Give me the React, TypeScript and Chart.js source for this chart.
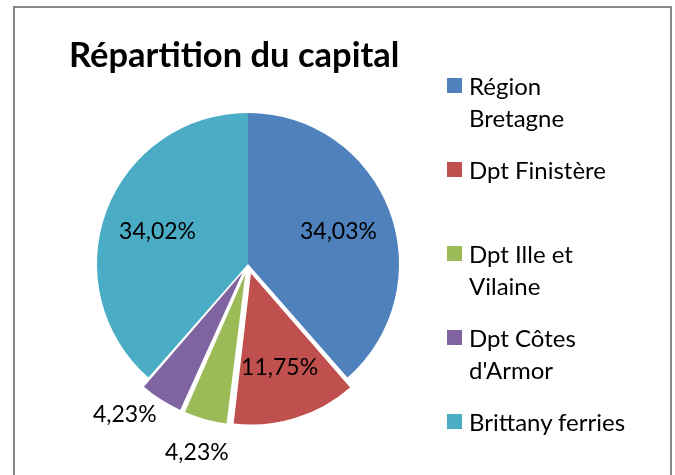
import React, { useEffect, useRef } from "react";
import { Chart, registerables } from "chart.js";

Chart.register(...registerables);

const titleText = "Répartition du capital";
const categories = [
  ["Région", "Bretagne"],
  ["Dpt Finistère"],
  ["Dpt Ille et", "Vilaine"],
  ["Dpt Côtes", "d'Armor"],
  ["Brittany ferries"],
];
const shares = [34.03, 11.75, 4.23, 4.23, 34.02];
const valueLabels = ["34,03%", "11,75%", "4,23%", "4,23%", "34,02%"];
const colors = ["#4F81BD", "#C0504D", "#9BBB59", "#8064A2", "#4BACC6"];
const exploded = [false, true, true, true, false];

const FONT = "Lato";
const LABEL_SIZE = 23;
const PIE_RADIUS = 151;
const EXPLODE_PX = 10;

// keep exploded slices the same radius (Chart.js grows them slightly)
const radiusFixPlugin = {
  id: "radiusFix",
  beforeDatasetsDraw(chart: any) {
    const meta = chart.getDatasetMeta(0);
    meta.data.forEach((arc: any) => {
      const off = (arc.options.offset || 0) / 4;
      const circ = arc.endAngle - arc.startAngle;
      const fix = 1 - Math.sin(Math.min(Math.PI, circ || 0));
      arc.outerRadius = PIE_RADIUS - off * fix;
    });
  },
};

const labelPlugin = {
  id: "sliceLabels",
  afterDatasetsDraw(chart: any) {
    const ctx = chart.ctx;
    const meta = chart.getDatasetMeta(0);
    ctx.save();
    ctx.font = `${LABEL_SIZE}px ${FONT}`;
    ctx.fillStyle = "#000";
    ctx.textAlign = "center";
    ctx.textBaseline = "middle";
    const placed: { x: number; y: number; w: number; h: number }[] = [];
    meta.data.forEach((arc: any, i: number) => {
      const p = arc.getProps(["x", "y", "startAngle", "endAngle"], true);
      const off = (arc.options.offset || 0) / 4;
      const span = p.endAngle - p.startAngle;
      let mid = (p.startAngle + p.endAngle) / 2;
      const text = valueLabels[i];
      const w = ctx.measureText(text).width;
      const h = LABEL_SIZE * 0.75;
      let x = 0, y = 0;
      if (span > 0.6) {
        const r = PIE_RADIUS * 0.64 + off;
        x = p.x + Math.cos(mid) * r;
        y = p.y + Math.sin(mid) * r;
      } else {
        const r = PIE_RADIUS * 1.28;
        const pad = 20;
        for (let k = 0; k < 60; k++) {
          x = p.x + Math.cos(mid) * r;
          y = p.y + Math.sin(mid) * r;
          const hit = placed.some(
            (b) => Math.abs(b.x - x) < (b.w + w) / 2 + pad && Math.abs(b.y - y) < (b.h + h) / 2 + pad
          );
          if (!hit) break;
          mid += Math.PI / 180;
        }
        placed.push({ x, y, w, h });
      }
      ctx.fillText(text, x, y + 2);
    });
    ctx.restore();
  },
};

export default function App() {
  const ref = useRef<HTMLCanvasElement>(null);
  useEffect(() => {
    if (!ref.current) return;
    const chart = new Chart(ref.current, {
      type: "pie",
      data: {
        labels: categories.map((c) => c.join(" ")),
        datasets: [
          {
            data: shares,
            backgroundColor: colors,
            borderWidth: 0,
            offset: (c: any) => (exploded[c.dataIndex] ? EXPLODE_PX * 4 : 0),
          },
        ],
      },
      options: {
        responsive: false,
        animation: false,
        radius: PIE_RADIUS,
        layout: { padding: { left: 80, right: 259, top: 90, bottom: 37 } },
        plugins: {
          legend: { display: false },
          title: { display: false },
          tooltip: { enabled: false },
        },
      } as any,
      plugins: [radiusFixPlugin, labelPlugin],
    });
    return () => chart.destroy();
  }, []);

  return (
    <div style={{ position: "absolute", left: 0, top: 0, width: 675, height: 475, overflow: "hidden", background: "#fff" }}>
      <div
        style={{
          position: "absolute",
          left: 13,
          top: 6,
          width: 655,
          height: 500,
          border: "2px solid #888",
        }}
      />
      <canvas ref={ref} width={675} height={475} style={{ position: "absolute", left: 0, top: 0 }} />
      <div
        style={{
          position: "absolute",
          left: 69,
          top: 30,
          fontFamily: FONT,
          fontWeight: "bold",
          fontSize: 34.5,
          lineHeight: "48px",
          color: "#000",
          whiteSpace: "nowrap",
        }}
      >
        {titleText}
      </div>
      {categories.map((lines, i) => (
        <div
          key={i}
          style={{
            position: "absolute",
            left: 447,
            top: 70 + i * 84,
            fontFamily: FONT,
            fontSize: 24,
            lineHeight: "32px",
            color: "#000",
            whiteSpace: "nowrap",
          }}
        >
          <span
            style={{
              position: "absolute",
              left: 0,
              top: 8,
              width: 15,
              height: 15,
              background: colors[i],
            }}
          />
          <div style={{ marginLeft: 22 }}>
            {lines.map((l, j) => (
              <div key={j}>{l}</div>
            ))}
          </div>
        </div>
      ))}
    </div>
  );
}
